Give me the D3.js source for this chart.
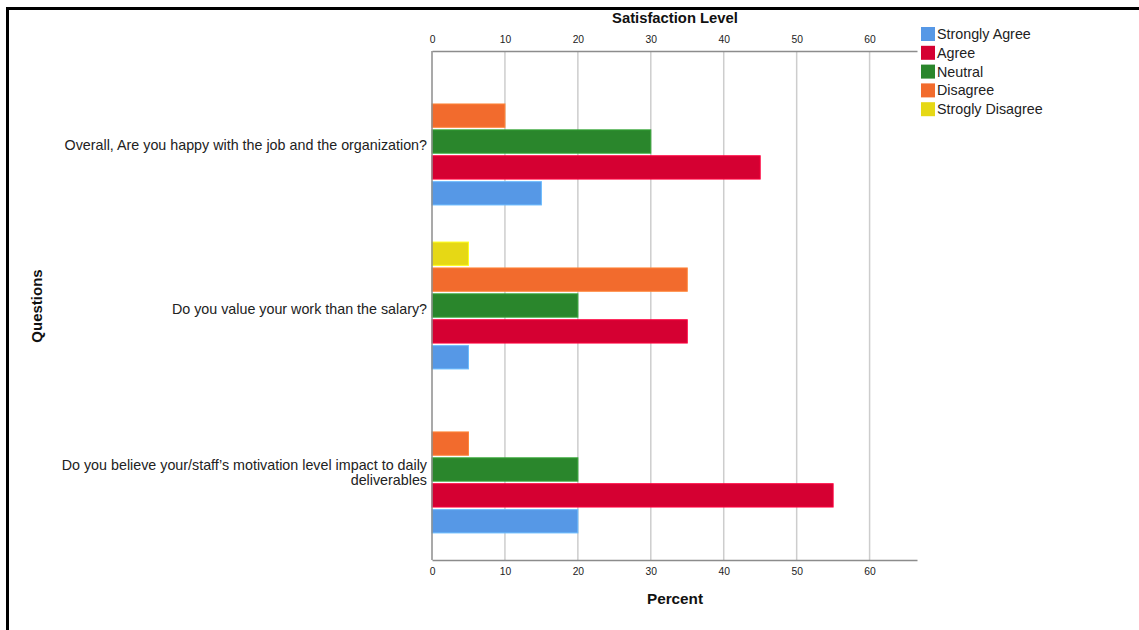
<!DOCTYPE html>
<html><head><meta charset="utf-8">
<script src="https://cdn.jsdelivr.net/npm/d3@7"></script>
<style>body{margin:0;background:#fff}svg{display:block;font-family:"Liberation Sans",Arial,sans-serif}</style>
</head><body>
<svg id="c" width="1139" height="630"></svg>
<script>
const questions = [
  "Overall, Are you happy with the job and the organization?",
  "Do you value your work than the salary?",
  "Do you believe your/staff's motivation level impact to daily deliverables"
];
const questionLines = [
  ["Overall, Are you happy with the job and the organization?"],
  ["Do you value your work than the salary?"],
  ["Do you believe your/staff\u2019s motivation level impact to daily", "deliverables"]
];
const levels = ["Strongly Agree", "Agree", "Neutral", "Disagree", "Strogly Disagree"];
const colors = ["#5698e6", "#d50032", "#2a862c", "#f26b2d", "#e6d815"];
const stronglyAgree = [15, 5, 20];
const agree = [45, 35, 55];
const neutral = [30, 20, 20];
const disagree = [10, 35, 5];
const stronglyDisagree = [0, 5, 0];
const tickValues = [0, 10, 20, 30, 40, 50, 60];

const series = [stronglyAgree, agree, neutral, disagree, stronglyDisagree];
const svg = d3.select("#c");

// outer frame
svg.append("line").attr("x1",7).attr("x2",1139).attr("y1",8.5).attr("y2",8.5).attr("stroke","#000").attr("stroke-width",3);
svg.append("line").attr("x1",7.5).attr("x2",7.5).attr("y1",7).attr("y2",630).attr("stroke","#000").attr("stroke-width",3);

const pL = 432, pR = 917, pT = 51, pB = 560;
const x = d3.scaleLinear().domain([0, 66.5]).range([pL, pR]);
const y0 = d3.scaleBand().domain(questions).range([pT, pB]).paddingInner(0.22).paddingOuter(0.162);
// top-to-bottom order within group: Strogly Disagree, Disagree, Neutral, Agree, Strongly Agree
const y1 = d3.scaleBand().domain(levels.slice().reverse()).range([0, y0.bandwidth()]).paddingInner(0.1).paddingOuter(0.02);

// gridlines
svg.append("g").selectAll("line").data(tickValues.filter(d=>d>0)).join("line")
  .attr("x1",d=>x(d)).attr("x2",d=>x(d)).attr("y1",pT).attr("y2",pB)
  .attr("stroke","#cdcdcd").attr("stroke-width",1.5);

// bars
questions.forEach((q,qi)=>{
  const g = svg.append("g").attr("transform",`translate(0,${y0(q)})`);
  g.selectAll("rect").data(levels.map((l,li)=>({l, v:series[li][qi], c:colors[li]})).filter(d=>d.v>0)).join("rect")
    .attr("x",x(0)).attr("y",d=>y1(d.l)).attr("width",d=>x(d.v)-x(0)).attr("height",y1.bandwidth())
    .attr("fill",d=>d.c).attr("stroke",d=>d3.color(d.c).brighter(0.6)).attr("stroke-width",1);
});

// axes
const axT = svg.append("g").attr("transform",`translate(0,${pT})`)
  .call(d3.axisTop(x).tickValues(tickValues).tickSize(0).tickPadding(8));
const axB = svg.append("g").attr("transform",`translate(0,${pB})`)
  .call(d3.axisBottom(x).tickValues(tickValues).tickSize(0).tickPadding(8));
[axT, axB].forEach(a=>{
  a.select(".domain").attr("stroke","#8c8c8c").attr("stroke-width",1.5);
  a.selectAll("text").attr("font-size",10.3).attr("fill","#222").attr("font-family","Liberation Sans, Arial, sans-serif");
});
svg.append("line").attr("x1",pL).attr("x2",pL).attr("y1",pT).attr("y2",pB).attr("stroke","#8c8c8c").attr("stroke-width",1.5);

// category labels
questions.forEach((q,qi)=>{
  const lines = questionLines[qi];
  const cy = y0(q) + y0.bandwidth()/2 + 4;
  const t = svg.append("text").attr("text-anchor","end").attr("font-size",14.3).attr("fill","#222");
  lines.forEach((ln,i)=>{
    t.append("tspan").attr("x",427).attr("y",cy + (i - (lines.length-1)/2)*15 + 4).text(ln);
  });
});

// titles
svg.append("text").attr("x",675).attr("y",23).attr("text-anchor","middle").attr("font-size",14.8).attr("font-weight","bold").attr("fill","#111").text("Satisfaction Level");
svg.append("text").attr("x",675).attr("y",604).attr("text-anchor","middle").attr("font-size",15.3).attr("font-weight","bold").attr("fill","#111").text("Percent");
svg.append("text").attr("transform","translate(42,306) rotate(-90)").attr("text-anchor","middle").attr("font-size",15).attr("font-weight","bold").attr("fill","#111").text("Questions");

// legend
const lg = svg.append("g").selectAll("g").data(levels).join("g")
  .attr("transform",(d,i)=>`translate(921,${27 + i*18.8})`);
lg.append("rect").attr("width",14).attr("height",14).attr("fill",(d,i)=>colors[i]);
lg.append("text").attr("x",16).attr("y",12).attr("font-size",14.3).attr("fill","#222").text(d=>d);
</script>
</body></html>
